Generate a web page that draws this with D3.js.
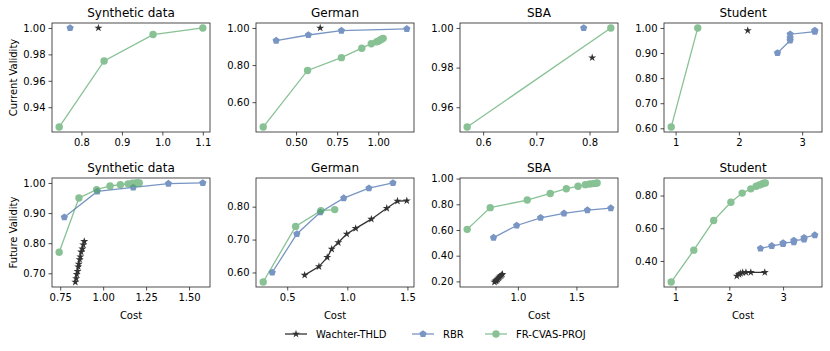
<!DOCTYPE html>
<html lang="en">
<head>
<meta charset="UTF-8">
<title>Cost vs Validity</title>
<script src="https://cdn.jsdelivr.net/npm/d3@7"></script>
<style>
  body { margin: 0; background: white; }
  text { font-family: 'DejaVu Sans', sans-serif; fill: #000; }
</style>
</head>
<body>
<svg id="chart" width="830" height="351"></svg>
<script>
// ---- data, points are [cost, validity] ----
// current validity (top row)
const synCurWachter = [[0.842, 1.0]];
const synCurRBR = [[0.772, 1.0]];
const synCurFR = [[0.745, 0.925], [0.856, 0.975], [0.977, 0.995], [1.1, 1.0]];

const gerCurWachter = [[0.647, 1.0]];
const gerCurRBR = [[0.379, 0.932], [0.575, 0.962], [0.776, 0.986], [1.174, 0.995]];
const gerCurFR = [[0.30, 0.466], [0.57, 0.771], [0.776, 0.84], [0.90, 0.891], [0.958, 0.915],
                  [0.99, 0.925], [1.0, 0.929], [1.01, 0.934], [1.02, 0.939], [1.03, 0.944]];

const sbaCurWachter = [[0.805, 0.985]];
const sbaCurRBR = [[0.789, 1.0]];
const sbaCurFR = [[0.57, 0.95], [0.84, 1.0]];

const stuCurWachter = [[2.14, 0.99]];
const stuCurRBR = [[2.61, 0.90], [2.81, 0.95], [2.81, 0.96], [2.81, 0.975], [3.2, 0.985], [3.2, 0.99]];
const stuCurFR = [[0.93, 0.605], [1.35, 1.0]];

// future validity (bottom row)
const synFutWachter = [[0.838, 0.671], [0.843, 0.683], [0.846, 0.697], [0.851, 0.707], [0.855, 0.722],
                       [0.858, 0.731], [0.863, 0.746], [0.867, 0.755], [0.872, 0.771], [0.879, 0.781],
                       [0.884, 0.795], [0.89, 0.806]];
const synFutRBR = [[0.774, 0.886], [0.966, 0.972], [1.175, 0.985], [1.38, 0.998], [1.58, 1.0]];
const synFutFR = [[0.744, 0.77], [0.859, 0.95], [0.962, 0.978], [1.04, 0.99], [1.10, 0.994],
                  [1.145, 0.997], [1.17, 0.999], [1.19, 1.0], [1.20, 1.0], [1.21, 1.0]];

const gerFutWachter = [[0.645, 0.592], [0.764, 0.618], [0.833, 0.646], [0.87, 0.671], [0.925, 0.691],
                       [0.995, 0.717], [1.07, 0.734], [1.2, 0.762], [1.328, 0.795], [1.417, 0.817],
                       [1.495, 0.818]];
const gerFutRBR = [[0.375, 0.60], [0.58, 0.717], [0.775, 0.783], [0.97, 0.826], [1.18, 0.856], [1.38, 0.872]];
const gerFutFR = [[0.30, 0.571], [0.57, 0.74], [0.78, 0.788], [0.895, 0.791]];

const sbaFutWachter = [[0.80, 0.195], [0.81, 0.202], [0.815, 0.206], [0.822, 0.212], [0.828, 0.219],
                       [0.836, 0.226], [0.843, 0.233], [0.851, 0.241], [0.86, 0.248], [0.868, 0.256]];
const sbaFutRBR = [[0.792, 0.541], [0.99, 0.635], [1.194, 0.695], [1.394, 0.729], [1.594, 0.755], [1.794, 0.77]];
const sbaFutFR = [[0.567, 0.605], [0.764, 0.774], [1.08, 0.833], [1.277, 0.884], [1.414, 0.921], [1.514, 0.94],
                  [1.577, 0.953], [1.614, 0.958], [1.643, 0.961], [1.663, 0.963], [1.677, 0.966]];

const stuFutWachter = [[2.14, 0.308], [2.18, 0.318], [2.21, 0.324], [2.25, 0.329], [2.31, 0.33], [2.40, 0.33], [2.66, 0.33]];
const stuFutRBR = [[2.58, 0.476], [2.79, 0.492], [3.0, 0.504], [3.0, 0.51], [3.2, 0.515], [3.2, 0.525],
                   [3.39, 0.532], [3.39, 0.542], [3.59, 0.558]];
const stuFutFR = [[0.92, 0.271], [1.34, 0.466], [1.71, 0.647], [2.03, 0.759], [2.24, 0.815], [2.40, 0.841],
                  [2.50, 0.857], [2.56, 0.865], [2.61, 0.871], [2.64, 0.876], [2.67, 0.877]];

// tick labels
const synCurXTicks = [0.8, 0.9, 1.0, 1.1], synCurYTicks = [0.94, 0.96, 0.98, 1.00];
const gerCurXTicks = [0.5, 0.75, 1.0], gerCurYTicks = [0.6, 0.8, 1.0];
const sbaCurXTicks = [0.6, 0.7, 0.8], sbaCurYTicks = [0.96, 0.98, 1.0];
const stuCurXTicks = [1, 2, 3], stuCurYTicks = [0.6, 0.7, 0.8, 0.9, 1.0];
const synFutXTicks = [0.75, 1.0, 1.25, 1.5], synFutYTicks = [0.7, 0.8, 0.9, 1.0];
const gerFutXTicks = [0.5, 1.0, 1.5], gerFutYTicks = [0.6, 0.7, 0.8];
const sbaFutXTicks = [1.0, 1.5], sbaFutYTicks = [0.2, 0.4, 0.6, 0.8, 1.0];
const stuFutXTicks = [1, 2, 3], stuFutYTicks = [0.4, 0.6, 0.8];

const titles = ["Synthetic data", "German", "SBA", "Student"];
const methods = ["Wachter-THLD", "RBR", "FR-CVAS-PROJ"];

// ---- layout ----
const svg = d3.select("#chart");
svg.append("rect").attr("width", 830).attr("height", 351).attr("fill", "white");

const colX = [52, 256, 460, 664], rowY = [23, 178];
const pw = 158, ph = 109;
const colors = ["#000000", "#4C72B0", "#55A868"];
const alphas = [0.8, 0.75, 0.7];

const pentagon = d3.line()(d3.range(5).map(i => {
    const a = -Math.PI / 2 + i * 2 * Math.PI / 5;
    return [3.8 * Math.cos(a), 3.8 * Math.sin(a)];
})) + "Z";
const star = d3.symbol().type(d3.symbolStar).size(20)();

function marker(g, m, color) {
    if (m === 0) g.append("path").attr("d", star).attr("fill", color);
    else if (m === 1) g.append("path").attr("d", pentagon).attr("fill", color);
    else g.append("circle").attr("r", 3.7).attr("fill", color);
}

function pad(ext) {
    const d = (ext[1] - ext[0]) * 0.05;
    return [ext[0] - d, ext[1] + d];
}

function drawPanel(row, col, series, xTicks, yTicks, xFmt, yLabel) {
    const g = svg.append("g").attr("transform", `translate(${colX[col]},${rowY[row]})`);
    const all = series.flat();
    const x = d3.scaleLinear().domain(pad(d3.extent(all, d => d[0]))).range([0, pw]);
    const y = d3.scaleLinear().domain(pad(d3.extent(all, d => d[1]))).range([ph, 0]);

    const xa = g.append("g").attr("transform", `translate(0,${ph})`)
        .call(d3.axisBottom(x).tickValues(xTicks).tickFormat(d3.format(xFmt)).tickSize(3.5).tickPadding(3));
    const ya = g.append("g")
        .call(d3.axisLeft(y).tickValues(yTicks).tickFormat(d3.format(".2f")).tickSize(3.5).tickPadding(3));
    [xa, ya].forEach(a => {
        a.select(".domain").remove();
        a.selectAll("line").attr("stroke", "#222").attr("stroke-width", 0.8);
        a.selectAll("text").style("font-size", "10px").style("font-family", "'DejaVu Sans', sans-serif");
    });

    const line = d3.line().x(d => x(d[0])).y(d => y(d[1]));
    series.forEach((pts, m) => {
        const s = g.append("g").attr("opacity", alphas[m]);
        s.append("path").attr("d", line(pts)).attr("fill", "none")
            .attr("stroke", colors[m]).attr("stroke-width", 1.3);
        pts.forEach(p => marker(s.append("g").attr("transform", `translate(${x(p[0])},${y(p[1])})`), m, colors[m]));
    });

    g.append("rect").attr("width", pw).attr("height", ph)
        .attr("fill", "none").attr("stroke", "#222").attr("stroke-width", 0.8);

    g.append("text").attr("x", pw / 2).attr("y", -6).attr("text-anchor", "middle")
        .style("font-size", "12px").text(titles[col]);
    if (row === 1) {
        g.append("text").attr("x", pw / 2).attr("y", ph + 32).attr("text-anchor", "middle")
            .style("font-size", "10px").text("Cost");
    }
    if (yLabel) {
        g.append("text").attr("transform", `translate(${13 - colX[col]},${ph / 2}) rotate(-90)`)
            .attr("text-anchor", "middle").attr("dy", "0.35em")
            .style("font-size", "10px").text(yLabel);
    }
}

drawPanel(0, 0, [synCurWachter, synCurRBR, synCurFR], synCurXTicks, synCurYTicks, ".1f", "Current Validity");
drawPanel(0, 1, [gerCurWachter, gerCurRBR, gerCurFR], gerCurXTicks, gerCurYTicks, ".2f");
drawPanel(0, 2, [sbaCurWachter, sbaCurRBR, sbaCurFR], sbaCurXTicks, sbaCurYTicks, ".1f");
drawPanel(0, 3, [stuCurWachter, stuCurRBR, stuCurFR], stuCurXTicks, stuCurYTicks, "d");
drawPanel(1, 0, [synFutWachter, synFutRBR, synFutFR], synFutXTicks, synFutYTicks, ".2f", "Future Validity");
drawPanel(1, 1, [gerFutWachter, gerFutRBR, gerFutFR], gerFutXTicks, gerFutYTicks, ".1f");
drawPanel(1, 2, [sbaFutWachter, sbaFutRBR, sbaFutFR], sbaFutXTicks, sbaFutYTicks, ".1f");
drawPanel(1, 3, [stuFutWachter, stuFutRBR, stuFutFR], stuFutXTicks, stuFutYTicks, "d");

// ---- legend ----
const legX = [285, 412, 485];
const legend = svg.append("g").attr("transform", "translate(0,334)");
methods.forEach((name, m) => {
    const item = legend.append("g").attr("transform", `translate(${legX[m]},0)`);
    const s = item.append("g").attr("opacity", alphas[m]);
    s.append("line").attr("x1", 0).attr("x2", 22).attr("stroke", colors[m]).attr("stroke-width", 1.3);
    marker(s.append("g").attr("transform", "translate(11,0)"), m, colors[m]);
    item.append("text").attr("x", 31).attr("dy", "0.35em").style("font-size", "10px").text(name);
});
</script>
</body>
</html>
